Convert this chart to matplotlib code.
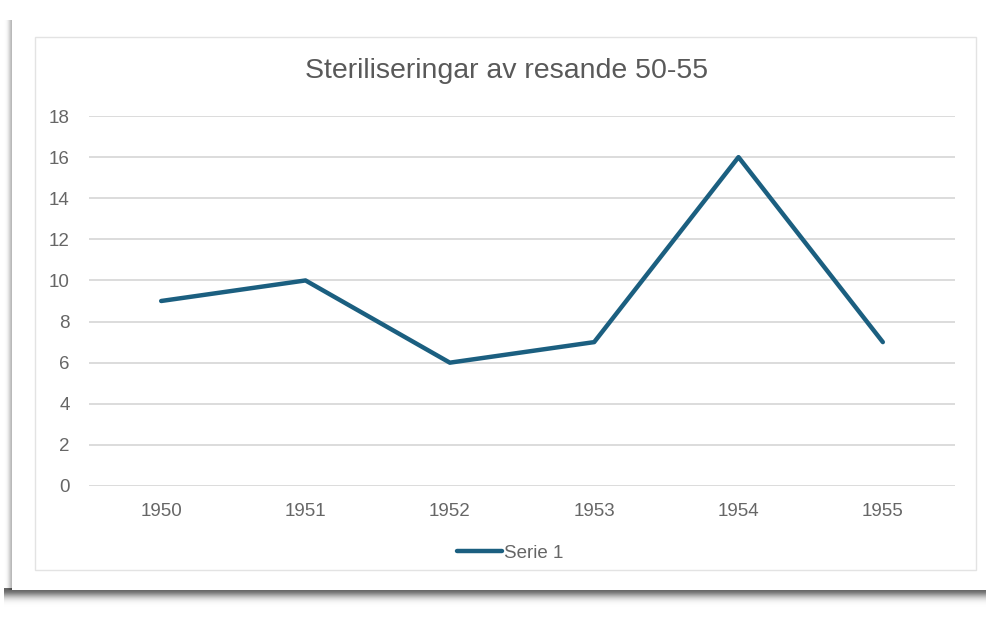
import numpy as np
import matplotlib.pyplot as plt
from matplotlib.patches import Rectangle

years = ['1950', '1951', '1952', '1953', '1954', '1955']
serie1 = [9, 10, 6, 7, 16, 7]
yticks = [0, 2, 4, 6, 8, 10, 12, 14, 16, 18]

plt.rcParams['font.family'] = ['Liberation Sans', 'DejaVu Sans']

fig = plt.figure(figsize=(9.86, 6.17), dpi=100)

# bakgrund: kort med skugga (pixelkoordinater)
bg = fig.add_axes([0, 0, 1, 1])
bg.set_xlim(0, 986)
bg.set_ylim(617, 0)
bg.axis('off')
# nedre skugga
grad = np.linspace(0, 1, 60).reshape(-1, 1)
shade = np.exp(-((grad - 0.05) / 0.3) ** 2)
bg.imshow(np.dstack([np.zeros_like(shade)] * 3 + [shade * 0.6]),
          extent=(4, 986, 614, 588), aspect='auto', zorder=0)
# vänster skugga
lgrad = np.linspace(0, 1, 20).reshape(1, -1)
lshade = np.exp(-((lgrad - 0.9) / 0.35) ** 2)
bg.imshow(np.dstack([np.zeros_like(lshade)] * 3 + [lshade * 0.3]),
          extent=(2, 14, 590, 20), aspect='auto', zorder=0)
bg.add_patch(Rectangle((12, 8), 974, 582, facecolor='white', edgecolor='none', zorder=1))
bg.add_patch(Rectangle((35, 37), 941, 533, facecolor='white',
                       edgecolor='#E3E3E3', linewidth=1.0, zorder=2))

ax = fig.add_axes([89 / 986, 1 - 486 / 617, 866 / 986, 370 / 617])
ax.patch.set_alpha(0)
x = np.arange(len(years))
ax.plot(x, serie1, color='#1B5F80', linewidth=3.2, solid_capstyle='round',
        solid_joinstyle='round', label='Serie 1', zorder=3)
ax.set_xlim(-0.5, len(years) - 0.5)
ax.set_ylim(0, 18)
ax.set_yticks(yticks)
ax.set_xticks(x)
ax.set_xticklabels(years)
ax.yaxis.grid(True, color='#D9D9D9', linewidth=1.3)
ax.set_axisbelow(True)
for s in ax.spines.values():
    s.set_visible(False)
ax.tick_params(length=0, labelsize=13.5, colors='#666666')
ax.tick_params(axis='y', pad=14)
ax.tick_params(axis='x', pad=12)

fig.text(507 / 986, 1 - 71 / 617, 'Steriliseringar av resande 50-55',
         ha='center', va='center', fontsize=20.5, color='#595959')

ax.legend(loc='center', bbox_to_anchor=(0.486, (486 - 553) / 370), frameon=False,
          fontsize=13.5, labelcolor='#666666', handlelength=2.4, handletextpad=0.1)

fig.savefig('out.png', dpi=100)
